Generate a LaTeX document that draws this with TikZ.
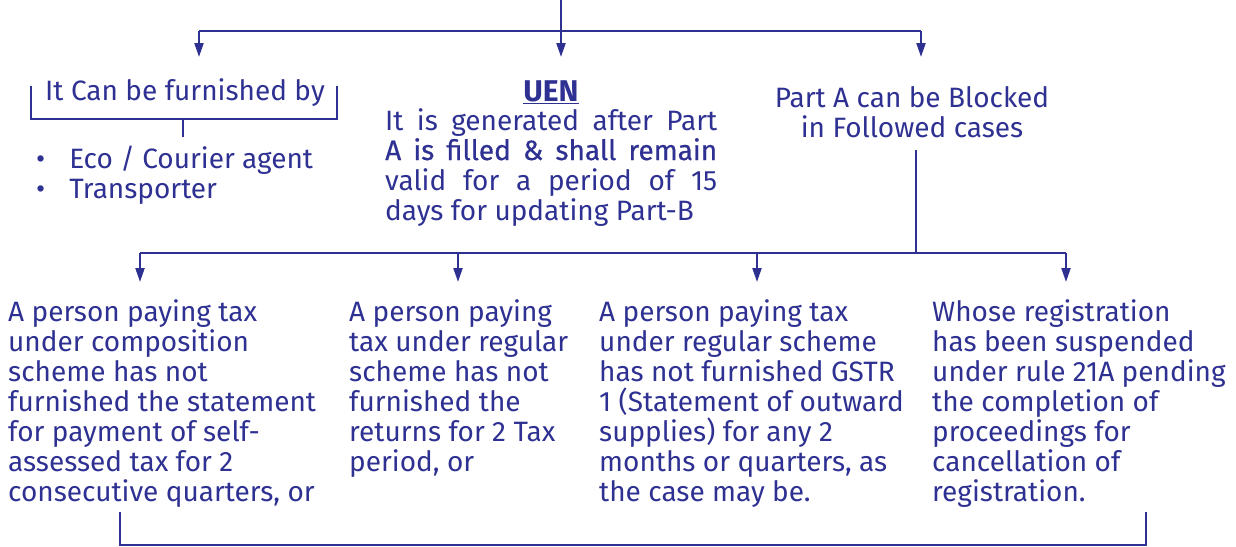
\documentclass[tikz,border=0pt]{standalone}
\usepackage{fontspec}
\setmainfont{Fira Sans}
\usetikzlibrary{arrows.meta}
\definecolor{navy}{HTML}{2E3192}
\newcommand{\bigdot}{\textbullet\hspace{24pt}}

\begin{document}
\begin{tikzpicture}[x=1pt,y=-1pt,
  line/.style={draw=navy, line width=2.2pt},
  arr/.style={line, -{Triangle[length=14pt,width=9pt]}},
  txt/.style={text=navy, inner sep=0pt, font=\fontsize{28}{30}\selectfont, align=left, anchor=base west},
]
\useasboundingbox (0,0) rectangle (1236,546);

% --- upper level -------------------------------------------------------
\coordinate (top) at (561,0);
\coordinate (j1)  at (561,31);
\coordinate (l1)  at (199,31);
\coordinate (r1)  at (921,31);
\coordinate (t1)  at (199,57);
\coordinate (t2)  at (561,57);
\coordinate (t3)  at (921,57);

% multi-line nodes sit on the baseline of their last line
\node[txt, anchor=base] (furn) at (185,100) {It Can be furnished by};
\node[txt] (list) at (36,198) {\bigdot Eco / Courier agent\\\bigdot Transporter};
\node[txt, anchor=base, font=\fontsize{30}{30}\selectfont\bfseries] (uen) at (551,101) {\underline{UEN}};
\node[txt, text width=332pt, align=justify] (uentext) at (385,130)
  {It is generated after Part\linebreak
   {\addfontfeature{FakeBold=0.6}A is filled \& shall remain}\linebreak
   valid for a period of 15\linebreak
   days for updating Part-B};
\node[txt, anchor=base, align=center] (block) at (912,137) {Part A can be Blocked\\in Followed cases};

\draw[line] (top) -- (j1);
\draw[line] (l1) -- (r1);
\draw[arr] (l1) -- (t1);
\draw[arr] (j1) -- (t2);
\draw[arr] (r1) -- (t3);

% bracket under the first heading
\coordinate (bl) at (31,86);
\coordinate (br) at (337,86);
\coordinate (bm) at (183,119);
\coordinate (bt) at (183,137);
\draw[line] (bl) |- (bm) -| (br);
\draw[line] (bm) -- (bt);

% --- lower level -------------------------------------------------------
\coordinate (v1) at (916,150);
\coordinate (j2) at (916,253);
\coordinate (l2) at (140,253);
\coordinate (r2) at (1066,253);
\coordinate (m2a) at (458,253);
\coordinate (m2b) at (757,253);
\coordinate (s1) at (140,282);
\coordinate (s2) at (458,282);
\coordinate (s3) at (757,282);
\coordinate (s4) at (1066,282);

\draw[line] (v1) -- (j2);
\draw[line] (l2) -- (r2);
\draw[arr] (l2) -- (s1);
\draw[arr] (m2a) -- (s2);
\draw[arr] (m2b) -- (s3);
\draw[arr] (r2) -- (s4);

\node[txt] (c1) at (8,501) {A person paying tax\\under composition\\scheme has not\\furnished the statement\\for payment of self-\\assessed tax for 2\\consecutive quarters, or};
\node[txt] (c2) at (349,471) {A person paying\\tax under regular\\scheme has not\\furnished the\\returns for 2 Tax\\period, or};
\node[txt] (c3) at (599,501) {A person paying tax\\under regular scheme\\has not furnished GSTR\\1 (Statement of outward\\supplies) for any 2\\months or quarters, as\\the case may be.};
\node[txt] (c4) at (932,501) {Whose registration\\has been suspended\\under rule 21A pending\\the completion of\\proceedings for\\cancellation of\\registration.};

% closing bracket along the bottom
\coordinate (ql) at (120,512);
\coordinate (qr) at (1146,512);
\coordinate (qb) at (630,545);
\draw[line] (ql) |- (qb) -| (qr);
\end{tikzpicture}
\end{document}
